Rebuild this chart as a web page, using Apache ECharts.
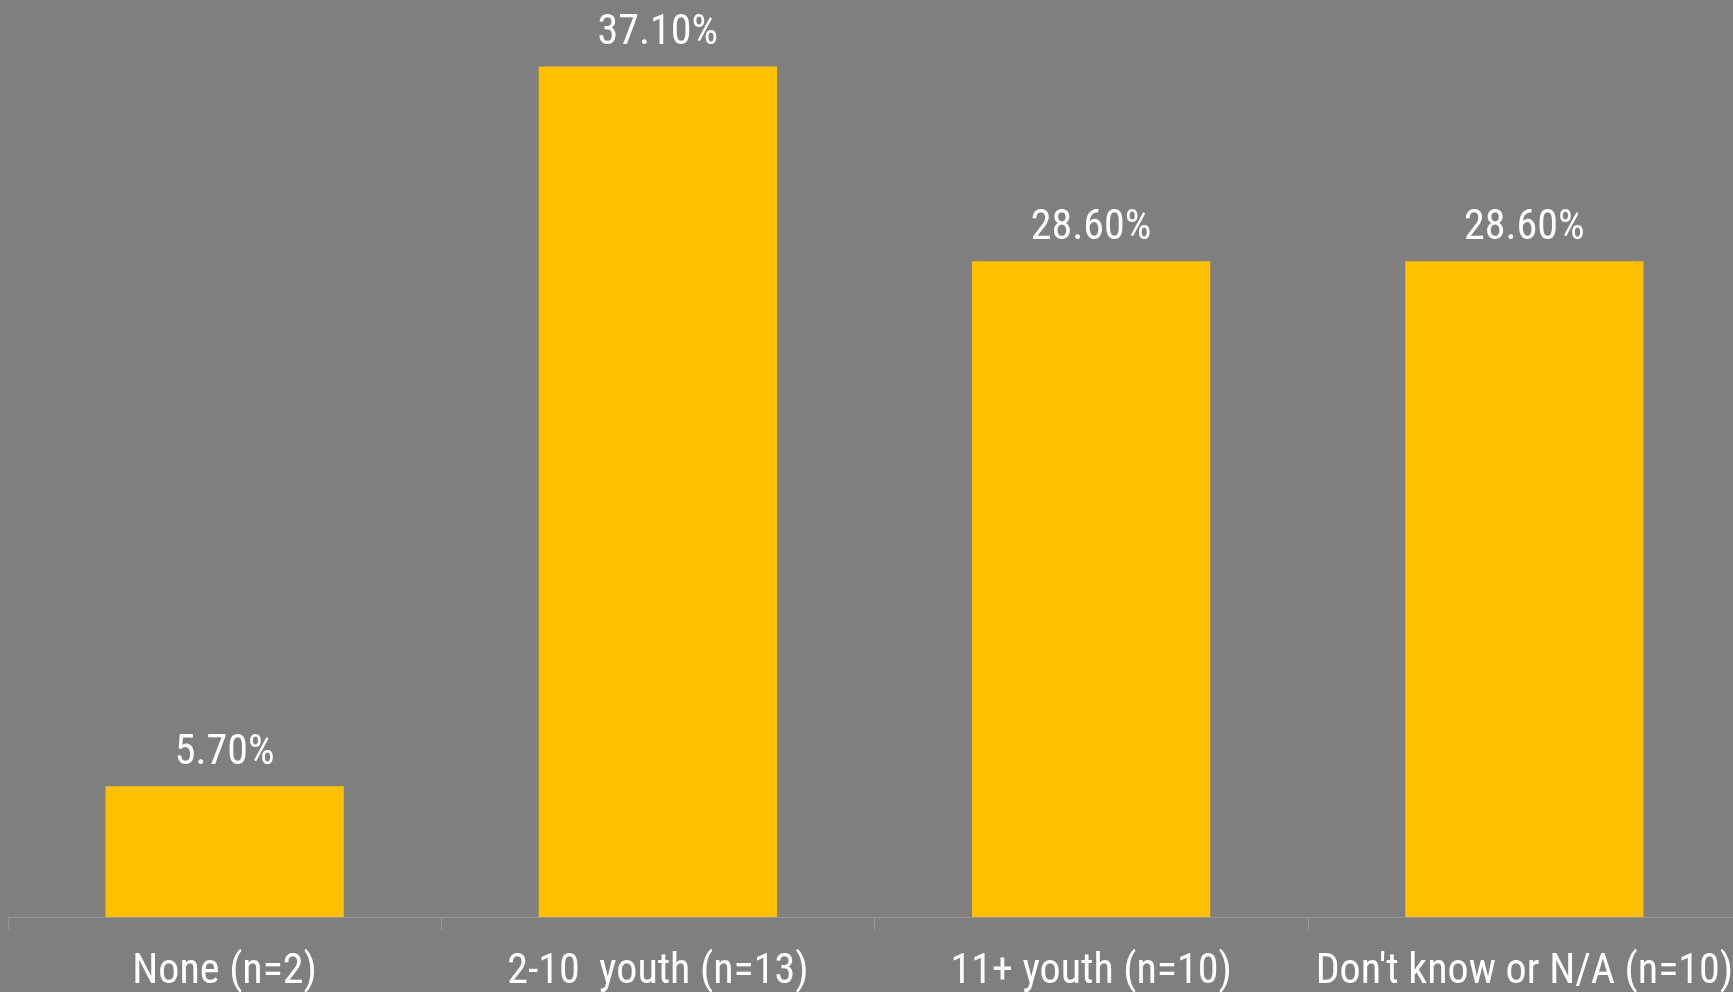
<!DOCTYPE html>
<html>
<head>
<meta charset="utf-8">
<script src="https://cdn.jsdelivr.net/npm/echarts@6/dist/echarts.min.js"></script>
<style>
    html, body { margin: 0; padding: 0; background: #7f7f7f; }
    #chart { width: 1733px; height: 992px; }
</style>
</head>
<body>
<div id="chart"></div>
<script>
var categories = ['None (n=2)', '2-10  youth (n=13)', '11+ youth (n=10)', "Don't know or N/A (n=10)"];
var percentValues = [5.7, 37.1, 28.6, 28.6];

var font = '"Liberation Sans Narrow", "Arial Narrow", "Roboto Condensed", sans-serif';
var myChart = echarts.init(document.getElementById('chart'));
var option = {
    backgroundColor: '#7f7f7f',
    animation: false,
    grid: {
        left: 8,
        right: -8,
        top: 0,
        bottom: 75,
        containLabel: false,
        outerBoundsMode: 'none'
    },
    xAxis: {
        type: 'category',
        data: categories,
        axisLine: { lineStyle: { color: '#969696', width: 1 } },
        axisTick: { show: true, length: 13, lineStyle: { color: '#969696' } },
        axisLabel: {
            interval: 0,
            color: '#ffffff',
            fontFamily: font,
            fontSize: 42,
            margin: 34
        }
    },
    yAxis: {
        type: 'value',
        min: 0,
        max: 40,
        show: false,
        splitLine: { show: false }
    },
    series: [
        {
            type: 'bar',
            data: percentValues,
            barWidth: '55%',
            itemStyle: { color: '#ffc000' },
            label: {
                show: true,
                position: 'top',
                distance: 12,
                color: '#ffffff',
                fontFamily: font,
                fontSize: 42,
                formatter: function (p) { return p.value.toFixed(2) + '%'; }
            }
        }
    ]
};
myChart.setOption(option);
</script>
</body>
</html>
